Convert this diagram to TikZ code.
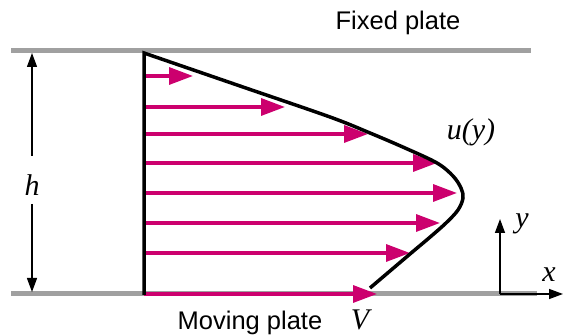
\documentclass[tikz,border=0pt]{standalone}
\usepackage{fontspec}
\setmainfont{Liberation Sans}
\newfontfamily\lblfont{Liberation Serif}
\usetikzlibrary{arrows.meta}
\definecolor{flowmag}{RGB}{204,0,110}
\definecolor{plategray}{RGB}{160,160,160}
\tikzset{
  plate/.style={draw=plategray, line width=5pt},
  flowarrow/.style={draw=flowmag, line width=3.3pt, -{Triangle[length=24pt,width=17pt]}},
  profile/.style={draw=black, line width=3.5pt, line join=miter},
  thinarrow/.style={draw=black, line width=1.3pt, -{Triangle[length=14pt,width=10pt]}},
  sanslabel/.style={font=\fontsize{25.5}{30}\selectfont, inner sep=0pt, anchor=base},
  mathlabel/.style={font=\fontsize{30}{36}\selectfont\lblfont\itshape, inner sep=0pt, anchor=base},
}
\begin{document}
\begin{tikzpicture}[x=1pt,y=-1pt]
\useasboundingbox (0,0) rectangle (563,336);
% plates
\coordinate (tpL) at (11,51);
\coordinate (tpR) at (531,51);
\coordinate (bpL) at (11,294);
\coordinate (bpR) at (537,294);
\draw[plate] (tpL) -- (tpR);
\draw[plate] (bpL) -- (bpR);
% velocity arrows
\foreach \i/\yy/\xx in {1/76/193, 2/107/285, 3/134/368, 4/163/437, 5/193/457, 6/223/440, 7/253/410, 8/294/377}{
  \coordinate (s\i) at (144,\yy);
  \coordinate (e\i) at (\xx,\yy);
  \draw[flowarrow] (s\i) -- (e\i);
}
% profile
\coordinate (vbot) at (144,295);
\coordinate (vtop) at (144,53);
\draw[profile] (vbot) -- (vtop) -- plot[smooth, tension=0.55] coordinates {(144,53) (240,86) (330,117) (370,133) (405,148) (437,163) (453,176) (461,188) (463,198) (458,210) (446,223) (429,238) (410,254) (370,288)};
% h dimension
\coordinate (hT) at (32,53);
\coordinate (hB) at (32,292);
\coordinate (hgT) at (32,156);
\coordinate (hgB) at (32,204);
\draw[thinarrow] (hgT) -- (hT);
\draw[thinarrow] (hgB) -- (hB);
\node[mathlabel] (h) at (32,196) {h};
% axes
\coordinate (O) at (500,294);
\coordinate (Y) at (500,219);
\coordinate (X) at (563,294);
\draw[thinarrow, line width=1.5pt] (O) -- (Y);
\draw[thinarrow, line width=1.5pt] (O) -- (X);
\node[mathlabel] (ylab) at (522,228) {y};
\node[mathlabel] (xlab) at (549,282) {x};
% labels
\node[mathlabel] (ulab) at (471,140) {u(y)};
\node[mathlabel] (Vlab) at (360,330) {V};
\node[sanslabel] (fixed) at (398,29.5) {Fixed plate};
\node[sanslabel] (moving) at (250,330) {Moving plate};
\end{tikzpicture}
\end{document}
